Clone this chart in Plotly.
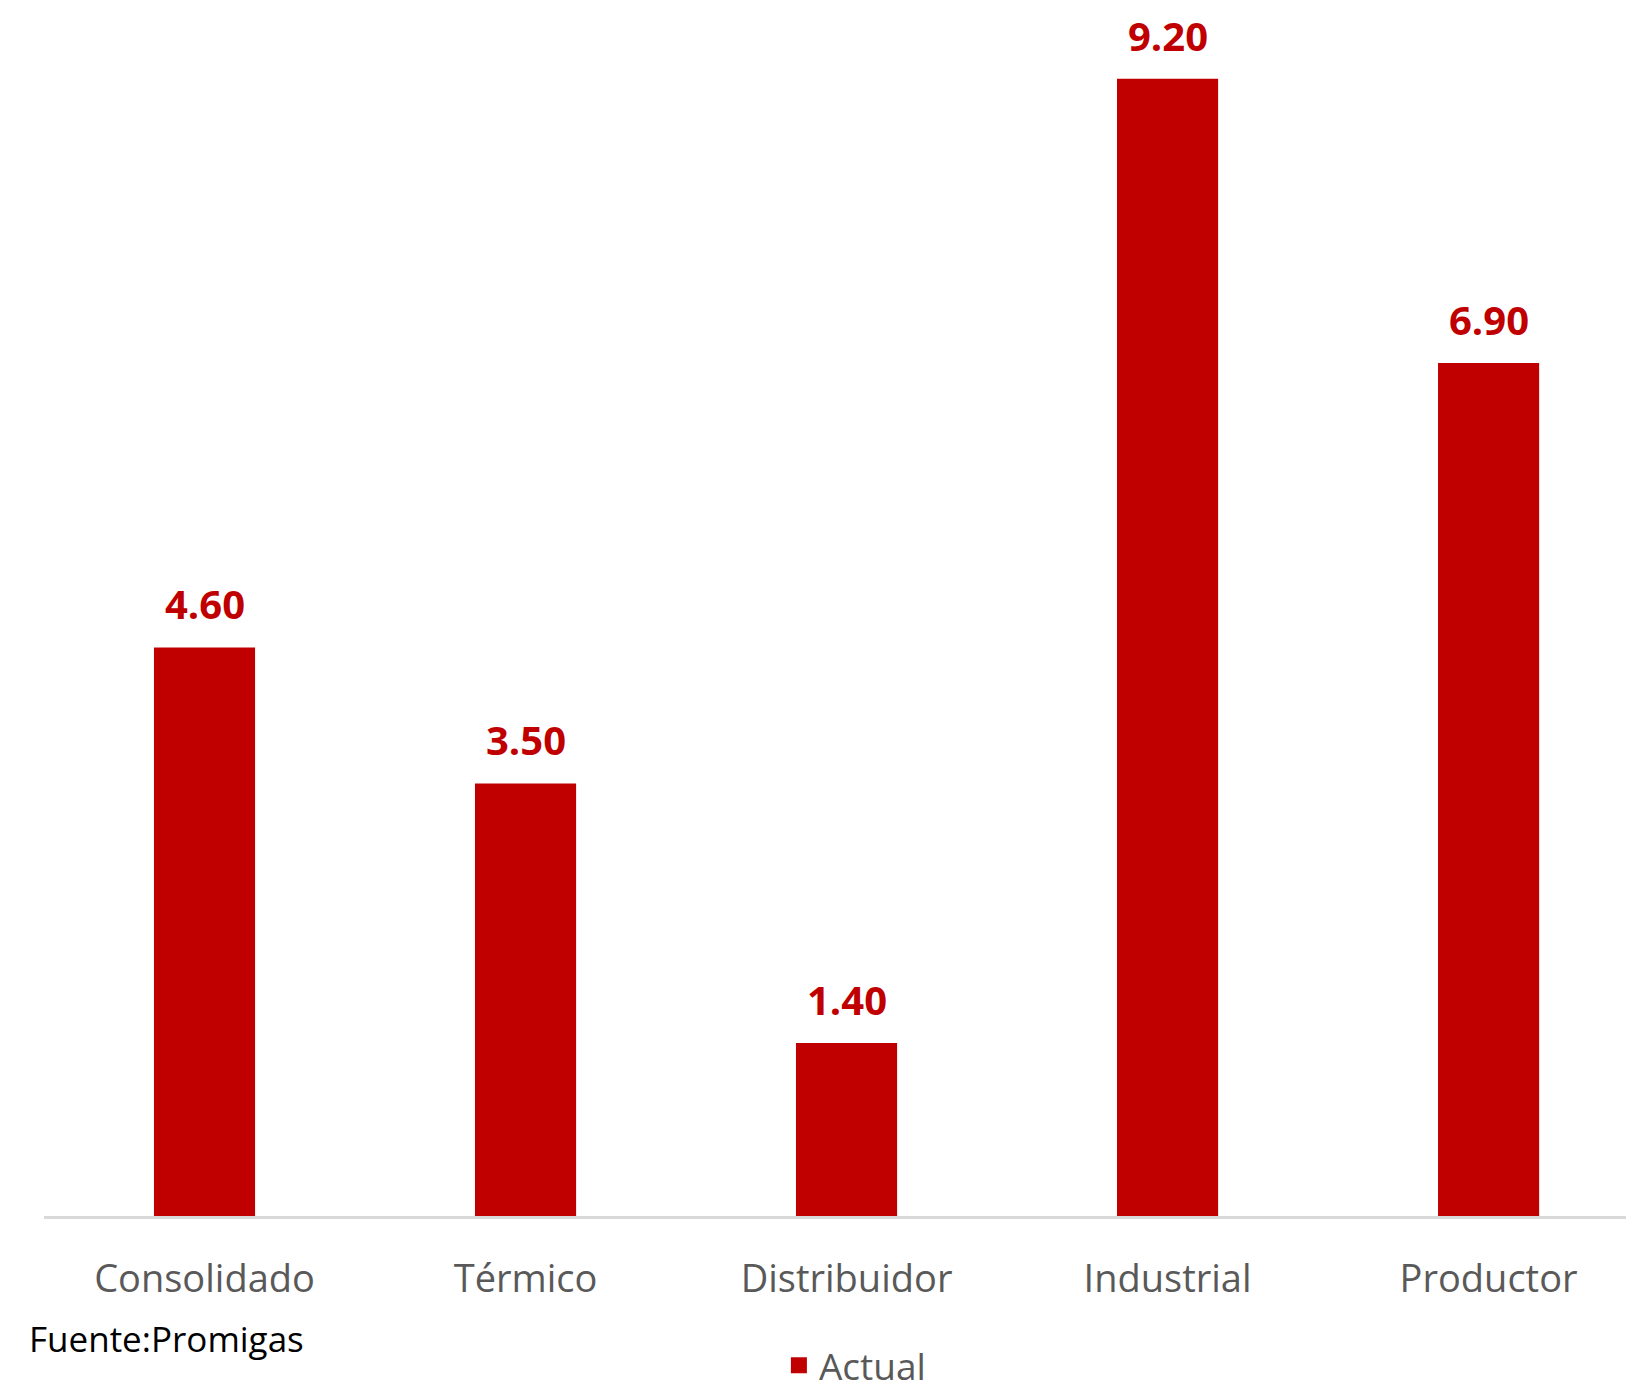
import plotly.graph_objects as go

categories = ["Consolidado", "Térmico", "Distribuidor", "Industrial", "Productor"]
values = [4.60, 3.50, 1.40, 9.20, 6.90]
value_labels = ["4.60", "3.50", "1.40", "9.20", "6.90"]
series_name = "Actual"
source_note = "Fuente:Promigas"

RED = "#C00000"
GRAY = "#595959"
FONT = "Open Sans"

fig = go.Figure()
fig.add_trace(go.Bar(
    x=categories, y=values, name=series_name,
    marker=dict(color=RED, line=dict(width=0)),
    showlegend=False,
))
# legend entry (square marker like the original legend key)
fig.add_trace(go.Scatter(
    x=[None], y=[None], mode="markers", name=series_name,
    marker=dict(symbol="square", size=22, color=RED),
    showlegend=True,
))

for c, v, t in zip(categories, values, value_labels):
    fig.add_annotation(x=c, y=v, text="<b>%s</b>" % t, showarrow=False,
                       yanchor="bottom", yshift=14,
                       font=dict(family=FONT, size=40, color=RED))

fig.add_annotation(xref="paper", yref="paper", x=-0.0107, y=-0.101,
                   xanchor="left", yanchor="middle", showarrow=False,
                   text=source_note, font=dict(family=FONT, size=35, color="black"))

fig.update_layout(
    width=1626, height=1384,
    margin=dict(l=36, r=0, t=0, b=176, autoexpand=False),
    plot_bgcolor="white", paper_bgcolor="white",
    bargap=0.685,
    font=dict(family=FONT, size=37, color=GRAY),
    showlegend=True,
    legend=dict(orientation="h", x=0.51, xanchor="center", y=-0.124, yanchor="middle",
                font=dict(family=FONT, size=37, color=GRAY),
                itemwidth=30),
)
fig.update_xaxes(
    range=[-0.5, 4.453],
    showline=True, linecolor="#D9D9D9", linewidth=3,
    showgrid=False, ticks="outside", ticklen=27, tickcolor="rgba(0,0,0,0)",
    tickfont=dict(family=FONT, size=38, color=GRAY),
)
fig.update_yaxes(range=[0, 9.773], visible=False, showgrid=False)

fig.write_html("out.html")
